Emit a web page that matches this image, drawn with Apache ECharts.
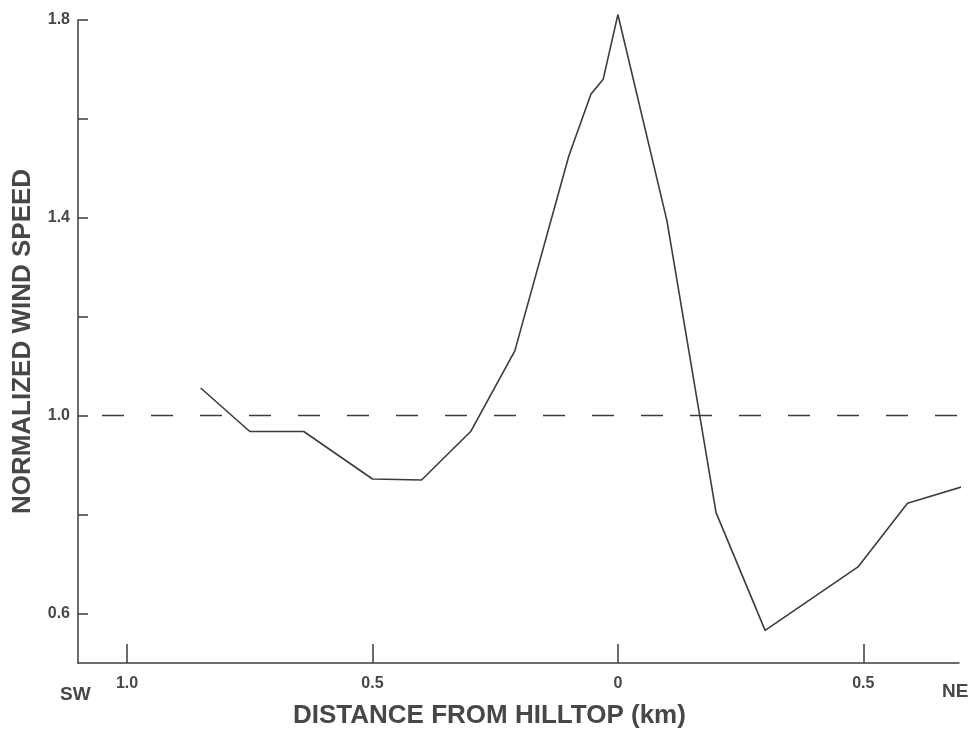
<!DOCTYPE html>
<html>
<head>
<meta charset="utf-8">
<script src="https://cdn.jsdelivr.net/npm/echarts@6/dist/echarts.min.js"></script>
<style>
html, body { margin: 0; padding: 0; background: #fff; }
#chart { width: 979px; height: 732px; }
</style>
</head>
<body>
<div id="chart"></div>
<script>
// distance from hilltop, km (SW negative, NE positive)
var distKm = [-0.85, -0.75, -0.64, -0.50, -0.40, -0.30, -0.21, -0.10, -0.055, -0.03, 0, 0.10, 0.20, 0.30, 0.49, 0.59, 0.71];
// normalized wind speed
var speed = [1.056, 0.968, 0.968, 0.872, 0.870, 0.968, 1.131, 1.525, 1.650, 1.680, 1.811, 1.394, 0.804, 0.566, 0.695, 0.823, 0.859];
var xTicks = [-1.0, -0.5, 0, 0.5];
var yTicks = [0.6, 0.8, 1.0, 1.2, 1.4, 1.6, 1.8];
var yLabels = [0.6, 1.0, 1.4, 1.8];
var refLevel = 1.0;

var ink = '#3c3c3c';
var txt = '#474747';

var data = [];
for (var i = 0; i < distKm.length; i++) {
    data.push([distKm[i], speed[i]]);
}

var myChart = echarts.init(document.getElementById('chart'));

var option = {
    backgroundColor: '#fff',
    animation: false,
    grid: {
        left: 78,
        right: 20,
        top: 20,
        bottom: 69,
        outerBoundsMode: 'none'
    },
    xAxis: {
        type: 'value',
        min: -1.1,
        max: 0.695,
        axisLine: { onZero: false, lineStyle: { color: ink, width: 1.5 } },
        axisTick: {
            inside: true,
            length: 19,
            customValues: xTicks,
            lineStyle: { color: ink, width: 1.5 }
        },
        axisLabel: {
            customValues: xTicks,
            margin: 13,
            color: txt,
            fontFamily: 'Liberation Sans',
            fontWeight: 'bold',
            fontSize: 16,
            formatter: function (v) {
                return v === 0 ? '0' : Math.abs(v).toFixed(1);
            }
        },
        splitLine: { show: false }
    },
    yAxis: {
        type: 'value',
        min: 0.5,
        max: 1.8,
        name: 'NORMALIZED WIND SPEED',
        nameLocation: 'middle',
        nameGap: 42,
        nameTextStyle: {
            color: txt,
            fontFamily: 'Liberation Sans',
            fontWeight: 'bold',
            fontSize: 26
        },
        axisLine: { onZero: false, lineStyle: { color: ink, width: 1.5 } },
        axisTick: {
            inside: true,
            length: 10,
            customValues: yTicks,
            lineStyle: { color: ink, width: 1.5 }
        },
        axisLabel: {
            customValues: yLabels,
            margin: 8,
            color: txt,
            fontFamily: 'Liberation Sans',
            fontWeight: 'bold',
            fontSize: 16,
            formatter: function (v) { return v.toFixed(1); }
        },
        splitLine: { show: false }
    },
    graphic: [
        {
            type: 'text',
            left: 293,
            top: 703,
            style: {
                text: 'DISTANCE FROM HILLTOP (km)',
                fill: txt,
                font: 'bold 26px "Liberation Sans"'
            }
        },
        {
            type: 'text',
            left: 60,
            top: 685,
            style: {
                text: 'SW',
                fill: txt,
                font: 'bold 19px "Liberation Sans"'
            }
        },
        {
            type: 'text',
            left: 942,
            top: 682,
            style: {
                text: 'NE',
                fill: txt,
                font: 'bold 19px "Liberation Sans"'
            }
        }
    ],
    series: [{
        type: 'line',
        data: data,
        clip: false,
        symbol: 'none',
        lineStyle: { color: ink, width: 1.6 },
        markLine: {
            silent: true,
            symbol: 'none',
            label: { show: false },
            lineStyle: {
                color: ink,
                width: 1.3,
                type: [22, 27],
                dashOffset: 25
            },
            data: [{ yAxis: refLevel }]
        }
    }]
};
myChart.setOption(option);
</script>
</body>
</html>
